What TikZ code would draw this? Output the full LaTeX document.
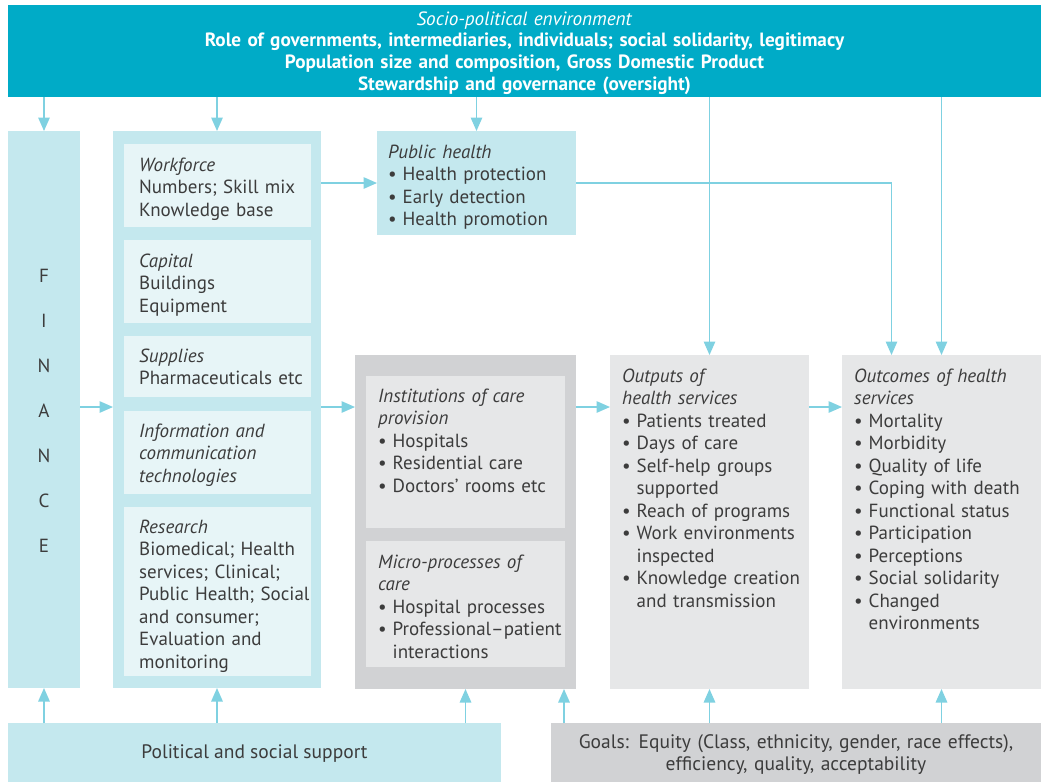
\documentclass[tikz,border=0pt]{standalone}
\usepackage{fontspec}
\setmainfont{PT Sans}
\usetikzlibrary{arrows.meta,fit}

\definecolor{bannerteal}{HTML}{00ABC7}
\definecolor{paleblue}{HTML}{C4E8EE}
\definecolor{innerblue}{HTML}{E7F5F7}
\definecolor{darkgrey}{HTML}{D1D2D4}
\definecolor{lightgrey}{HTML}{E6E7E8}
\definecolor{arrowblue}{HTML}{7FD1E1}
\definecolor{ink}{HTML}{3C3C3C}

% bullet item and continuation indent
\newcommand{\itm}{\makebox[14.5pt][l]{•}}
\newcommand{\ind}{\hspace*{14.5pt}}

\begin{document}
\begin{tikzpicture}[x=1pt,y=-1pt,
  area/.style={inner sep=0pt, outer sep=0pt, draw=none},
  body/.style={text=ink, font=\fontsize{19}{22.5}\selectfont, align=left,
    text width=#1, inner sep=0pt, anchor=base west},
  arr/.style={draw=arrowblue, line width=1.4pt,
    -{Triangle[length=13.5pt,width=11.5pt]}}]
\useasboundingbox (0,0) rectangle (1041,782);

% ---------- boxes ----------
\node[area, fill=bannerteal, fit={(8,5) (1041,97)}] (banner) {};
\node[area, fill=paleblue, fit={(8,131) (80,688)}] (fin) {};
\node[area, fill=paleblue, fit={(113,131) (321,688)}] (res) {};
\node[area, fill=innerblue, fit={(124,144) (311,227)}] (wf) {};
\node[area, fill=innerblue, fit={(124,240) (311,323)}] (capb) {};
\node[area, fill=innerblue, fit={(124,336) (311,397)}] (supb) {};
\node[area, fill=innerblue, fit={(124,411) (311,494)}] (ictb) {};
\node[area, fill=innerblue, fit={(124,507) (311,676)}] (rsb) {};
\node[area, fill=paleblue, fit={(377,131) (576,235)}] (ph) {};
\node[area, fill=darkgrey, fit={(355,355) (576,689)}] (care) {};
\node[area, fill=lightgrey, fit={(366,376) (565,528)}] (inst) {};
\node[area, fill=lightgrey, fit={(366,541) (565,667)}] (micro) {};
\node[area, fill=lightgrey, fit={(610,355) (809,689)}] (outp) {};
\node[area, fill=lightgrey, fit={(842,355) (1041,689)}] (outc) {};
\node[area, fill=paleblue, fit={(8,723) (501,782)}] (pol) {};
\node[area, fill=darkgrey, fit={(551,723) (1041,782)}] (goals) {};

% ---------- texts ----------
\node[text=white, font=\bfseries\fontsize{19.2}{21.8}\selectfont, align=center,
  text width=1000pt, inner sep=0pt, anchor=base] (bannertext) at (524.5,25)
  {\textit{\mdseries Socio-political environment}\\
   Role of governments, intermediaries, individuals; social solidarity, legitimacy\\
   Population size and composition, Gross Domestic Product\\
   Stewardship and governance (oversight)};

\node[text=ink, font=\fontsize{19}{45}\selectfont, align=center, text width=40pt,
  inner sep=0pt, anchor=base] (fintext) at (44,282)
  {F\\I\\N\\A\\N\\C\\E};

\node[body=180pt] (wftext) at (139,171)
  {\textit{Workforce}\\Numbers; Skill mix\\Knowledge base};
\node[body=180pt] (captext) at (139,267)
  {\textit{Capital}\\Buildings\\Equipment};
\node[body=180pt] (suptext) at (139,362)
  {\textit{Supplies}\\Pharmaceuticals etc};
\node[body=180pt] (icttext) at (139,437)
  {\textit{Information and}\\\textit{communication}\\\textit{technologies}};
\node[body=180pt] (rstext) at (139,533)
  {\textit{Research}\\Biomedical; Health\\services; Clinical;\\Public Health; Social\\and consumer;\\Evaluation and\\monitoring};

\node[body=190pt] (phtext) at (388,158)
  {\textit{Public health}\\\itm Health protection\\\itm Early detection\\\itm Health promotion};

\node[body=195pt] (insttext) at (378,402)
  {\textit{Institutions of care}\\\textit{provision}\\\itm Hospitals\\\itm Residential care\\\itm Doctors’ rooms etc};
\node[body=195pt] (microtext) at (378,568)
  {\textit{Micro-processes of}\\\textit{care}\\\itm Hospital processes\\\itm Professional–patient\\\ind interactions};

\node[body=190pt] (outptext) at (622,382)
  {\textit{Outputs of}\\\textit{health services}\\\itm Patients treated\\\itm Days of care\\\itm Self-help groups\\\ind supported\\\itm Reach of programs\\\itm Work environments\\\ind inspected\\\itm Knowledge creation\\\ind and transmission};

\node[body=185pt] (outctext) at (854,382)
  {\textit{Outcomes of health}\\\textit{services}\\\itm Mortality\\\itm Morbidity\\\itm Quality of life\\\itm Coping with death\\\itm Functional status\\\itm Participation\\\itm Perceptions\\\itm Social solidarity\\\itm Changed\\\ind environments};

\node[text=ink, font=\fontsize{19.5}{22}\selectfont, inner sep=0pt,
  anchor=base] (poltext) at (254.5,758) {Political and social support};
\node[text=ink, font=\fontsize{19.5}{22}\selectfont, align=center,
  text width=480pt, inner sep=0pt, anchor=base] (goalstext) at (796,748)
  {Goals: Equity (Class, ethnicity, gender, race effects),\\efficiency, quality, acceptability};

% ---------- connector anchors ----------
\coordinate (row) at (0,407);
\coordinate (phrow) at (0,183);
\coordinate (phdrop) at ([xshift=49.5pt]outc.north west);
\coordinate (careright) at ([xshift=-12pt]care.south east);

% ---------- connectors from the environment ----------
\draw[arr] (banner.south -| fin.north) -- (fin.north);
\draw[arr] (banner.south -| res.north) -- (res.north);
\draw[arr] (banner.south -| ph.north) -- (ph.north);
\draw[arr] (banner.south -| outp.north) -- (outp.north);
\draw[arr] (banner.south -| outc.north) -- (outc.north);

% ---------- workforce to public health, public health to outcomes ----------
\draw[arr] (res.east |- phrow) -- (ph.west |- phrow);
\draw[arr] (ph.east |- phrow) -| (phdrop);

% ---------- main chain ----------
\draw[arr] (fin.east |- row) -- (res.west |- row);
\draw[arr] (res.east |- row) -- (care.west |- row);
\draw[arr] (care.east |- row) -- (outp.west |- row);
\draw[arr] (outp.east |- row) -- (outc.west |- row);

% ---------- support and goals ----------
\draw[arr] (pol.north -| fin.south) -- (fin.south);
\draw[arr] (pol.north -| res.south) -- (res.south);
\draw[arr] (pol.north -| care.south) -- (care.south);
\draw[arr] (goals.north -| careright) -- (careright);
\draw[arr] (goals.north -| outp.south) -- (outp.south);
\draw[arr] (goals.north -| outc.south) -- (outc.south);
\end{tikzpicture}
\end{document}
